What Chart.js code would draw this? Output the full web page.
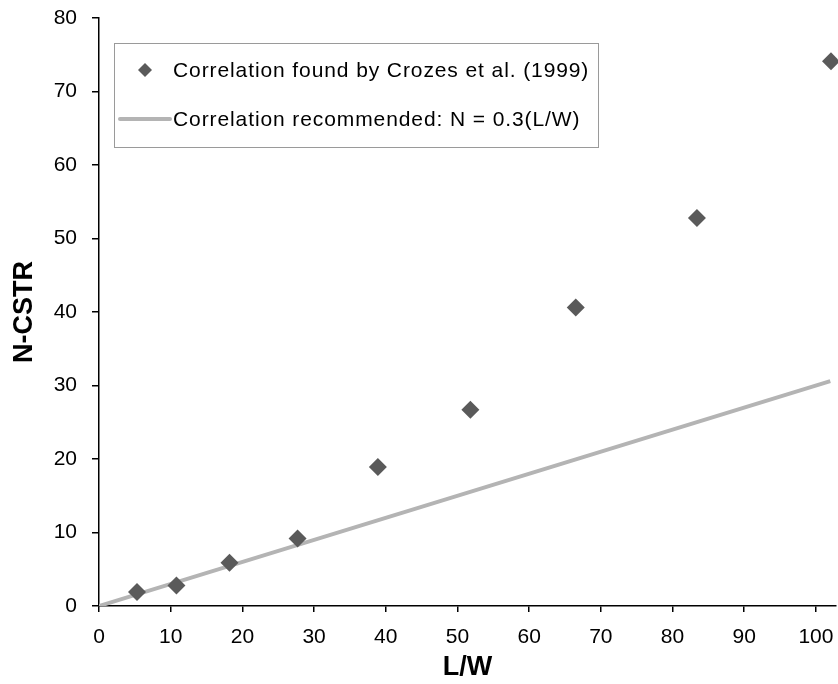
<!DOCTYPE html>
<html>
<head>
<meta charset="utf-8">
<title>N-CSTR vs L/W</title>
<script src="https://cdn.jsdelivr.net/npm/chart.js@4/dist/chart.umd.min.js"></script>
<style>
  html, body { margin: 0; padding: 0; background: #fff; }
  #wrap { width: 838px; height: 684px; }
</style>
</head>
<body>
<div id="wrap"><canvas id="chart"></canvas></div>
<script>
// measured points (Crozes et al. 1999)
const ratioLW = [5.3, 10.8, 18.2, 27.7, 38.9, 51.8, 66.5, 83.4, 102.1];
const nCstr = [1.9, 2.8, 5.9, 9.2, 18.9, 26.7, 40.6, 52.8, 74.1];

// recommended correlation N = 0.3(L/W), end points
const fitLW = [0, 102];
const fitN = [0, 30.6];

const xTicks = [0, 10, 20, 30, 40, 50, 60, 70, 80, 90, 100];
const yTicks = [0, 10, 20, 30, 40, 50, 60, 70, 80];

const seriesLabels = [
  'Correlation found by Crozes et al. (1999)',
  'Correlation recommended: N = 0.3(L/W)'
];

const FONT = '"Liberation Sans", Arial, sans-serif';
const MARKER = '#5a5a5a';
const FITLINE = '#b4b4b4';

// legend sits inside the plot in a framed box
const boxLegend = {
  id: 'boxLegend',
  afterDraw(chart) {
    const ctx = chart.ctx;
    const area = chart.chartArea;
    const x0 = area.left + 15;
    const y0 = area.top + 25;
    const w = 484;
    const h = 104;

    ctx.save();
    ctx.fillStyle = '#fff';
    ctx.fillRect(x0, y0, w, h);
    ctx.strokeStyle = '#9a9a9a';
    ctx.lineWidth = 1;
    ctx.strokeRect(x0 + 0.5, y0 + 0.5, w, h);

    // row 1: diamond
    const mx = x0 + 31, my = y0 + 27, r = 7;
    ctx.fillStyle = MARKER;
    ctx.beginPath();
    ctx.moveTo(mx, my - r);
    ctx.lineTo(mx + r, my);
    ctx.lineTo(mx, my + r);
    ctx.lineTo(mx - r, my);
    ctx.closePath();
    ctx.fill();

    // row 2: line sample
    ctx.strokeStyle = FITLINE;
    ctx.lineWidth = 4;
    ctx.lineCap = 'round';
    ctx.beginPath();
    ctx.moveTo(x0 + 6, y0 + 76);
    ctx.lineTo(x0 + 56, y0 + 76);
    ctx.stroke();

    ctx.fillStyle = '#000';
    ctx.font = '21px ' + FONT;
    ctx.textBaseline = 'middle';
    ctx.textAlign = 'left';
    if ('letterSpacing' in ctx) ctx.letterSpacing = '0.9px';
    ctx.fillText(chart.data.datasets[0].label, x0 + 59, y0 + 28);
    ctx.fillText(chart.data.datasets[1].label, x0 + 59, y0 + 77);
    ctx.restore();
  }
};

new Chart(document.getElementById('chart'), {
  type: 'scatter',
  data: {
    datasets: [
      {
        label: seriesLabels[0],
        data: ratioLW.map((v, i) => ({ x: v, y: nCstr[i] })),
        pointStyle: 'rectRot',
        pointRadius: 9,
        backgroundColor: MARKER,
        borderColor: MARKER,
        borderWidth: 0,
        clip: false,
        order: 0
      },
      {
        label: seriesLabels[1],
        data: fitLW.map((v, i) => ({ x: v, y: fitN[i] })),
        showLine: true,
        borderColor: FITLINE,
        borderWidth: 4,
        pointRadius: 0,
        order: 1
      }
    ]
  },
  options: {
    responsive: true,
    maintainAspectRatio: false,
    animation: false,
    events: [],
    layout: { autoPadding: false, padding: { top: 18, right: 2, bottom: 0, left: 0 } },
    plugins: {
      legend: { display: false },
      tooltip: { enabled: false }
    },
    scales: {
      x: {
        type: 'linear',
        position: 'bottom',
        min: 0,
        max: 102.8,
        border: { display: true, color: '#000', width: 1.5 },
        grid: { display: true, drawOnChartArea: false, drawTicks: true, tickLength: 6, color: '#000', lineWidth: 1.5 },
        ticks: { color: '#000', font: { family: FONT, size: 21 }, padding: 13, maxRotation: 0, autoSkip: false },
        title: {
          display: true,
          text: 'L/W',
          color: '#000',
          font: { family: FONT, size: 27, weight: 'bold', lineHeight: 1 },
          padding: { top: 0, bottom: 3 }
        },
        afterBuildTicks: s => { s.ticks = xTicks.map(v => ({ value: v })); },
        afterFit: s => { s.height = 78; s.paddingLeft = 0; s.paddingRight = 0; }
      },
      y: {
        type: 'linear',
        min: 0,
        max: 80,
        border: { display: true, color: '#000', width: 1.5 },
        grid: { display: true, drawOnChartArea: false, drawTicks: true, tickLength: 7, color: '#000', lineWidth: 1.5 },
        ticks: { color: '#000', font: { family: FONT, size: 21 }, padding: 15 },
        title: {
          display: true,
          text: 'N-CSTR',
          color: '#000',
          font: { family: FONT, size: 27, weight: 'bold', lineHeight: 1 },
          padding: { top: 11, bottom: 0 }
        },
        afterBuildTicks: s => { s.ticks = yTicks.map(v => ({ value: v })); },
        afterFit: s => { s.width = 99; s.paddingTop = 0; s.paddingBottom = 0; }
      }
    }
  },
  plugins: [boxLegend]
});
</script>
</body>
</html>
